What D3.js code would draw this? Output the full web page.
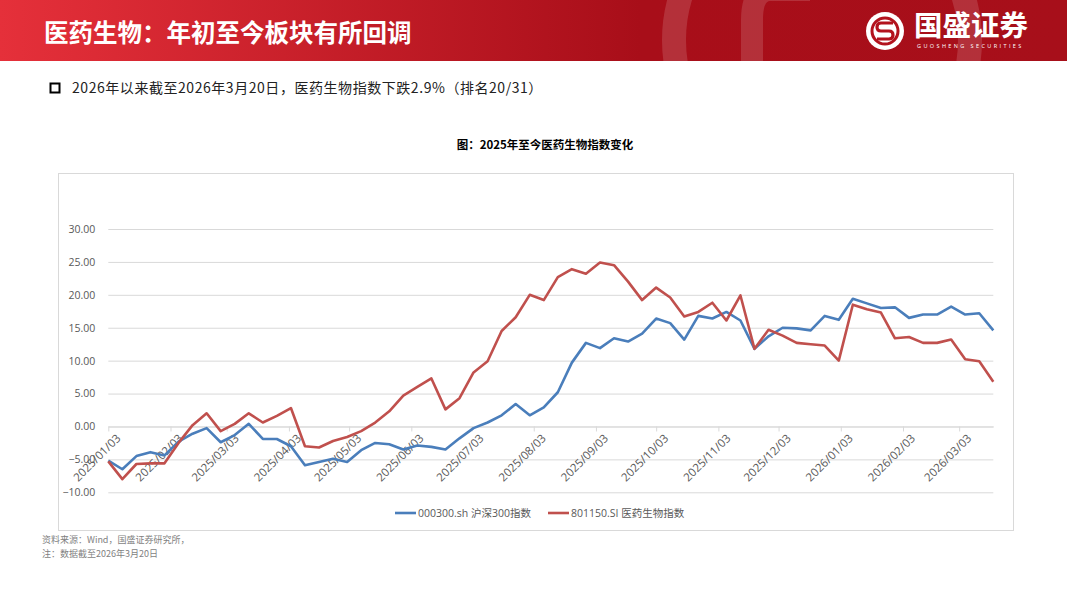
<!DOCTYPE html>
<html>
<head>
<meta charset="utf-8">
<title>医药生物：年初至今板块有所回调</title>
<script src="https://cdnjs.cloudflare.com/ajax/libs/d3/7.8.5/d3.min.js"></script>
<style>
  body { margin: 0; background: #fff; }
  svg { display: block; }
  text { font-family: "Open Sans", "Noto Sans CJK SC", sans-serif; }
  .cjk { font-family: "Noto Sans CJK SC", sans-serif; }
</style>
</head>
<body>
<svg id="page" width="1067" height="600"></svg>
<script>
// weekly dates (Fridays)
var dates = [
  "2025/01/03","2025/01/10","2025/01/17","2025/01/24","2025/01/31",
  "2025/02/07","2025/02/14","2025/02/21","2025/02/28",
  "2025/03/07","2025/03/14","2025/03/21","2025/03/28",
  "2025/04/04","2025/04/11","2025/04/18","2025/04/25",
  "2025/05/02","2025/05/09","2025/05/16","2025/05/23","2025/05/30",
  "2025/06/06","2025/06/13","2025/06/20","2025/06/27",
  "2025/07/04","2025/07/11","2025/07/18","2025/07/25",
  "2025/08/01","2025/08/08","2025/08/15","2025/08/22","2025/08/29",
  "2025/09/05","2025/09/12","2025/09/19","2025/09/26",
  "2025/10/03","2025/10/10","2025/10/17","2025/10/24","2025/10/31",
  "2025/11/07","2025/11/14","2025/11/21","2025/11/28",
  "2025/12/05","2025/12/12","2025/12/19","2025/12/26",
  "2026/01/02","2026/01/09","2026/01/16","2026/01/23","2026/01/30",
  "2026/02/06","2026/02/13","2026/02/20","2026/02/27",
  "2026/03/06","2026/03/13","2026/03/20"
];

// 000300.sh 沪深300指数 (%)
var hs300 = [
  -5.2, -6.5, -4.5, -3.9, -4.4, -2.3, -1.1, -0.25, -2.4, -1.3,
  0.4, -1.9, -1.9, -3.0, -5.9, -5.4, -4.9, -5.4, -3.6, -2.5,
  -2.7, -3.5, -2.9, -3.1, -3.5, -1.8, -0.25, 0.6, 1.7, 3.4,
  1.7, 2.9, 5.2, 9.7, 12.7, 11.9, 13.4, 12.9, 14.1, 16.4,
  15.7, 13.2, 16.8, 16.4, 17.4, 16.1, 11.8, 13.7, 15.0, 14.9,
  14.6, 16.8, 16.2, 19.4, 18.7, 18.0, 18.1, 16.5, 17.0, 17.0,
  18.2, 17.0, 17.2, 14.6
];

// 801150.SI 医药生物指数 (%)
var yiyao = [
  -5.3, -8.0, -5.7, -5.6, -5.6, -2.5, 0.2, 2.0, -0.7, 0.4,
  2.0, 0.6, 1.6, 2.8, -3.0, -3.2, -2.2, -1.6, -0.7, 0.6,
  2.3, 4.7, 6.0, 7.3, 2.6, 4.3, 8.2, 9.9, 14.5, 16.6,
  20.0, 19.2, 22.7, 23.9, 23.2, 24.9, 24.5, 22.0, 19.2, 21.1,
  19.6, 16.7, 17.4, 18.8, 16.1, 19.9, 11.8, 14.7, 13.8, 12.7,
  12.5, 12.3, 10.0, 18.5, 17.8, 17.3, 13.4, 13.6, 12.7, 12.7,
  13.2, 10.2, 9.9, 6.8
];

var seriesNames = ["000300.sh 沪深300指数", "801150.SI 医药生物指数"];
var seriesColors = ["#4a7ebb", "#c0504d"];

var yTicks = [-10, -5, 0, 5, 10, 15, 20, 25, 30];
var xTickLabels = [
  "2025/01/03","2025/02/03","2025/03/03","2025/04/03","2025/05/03",
  "2025/06/03","2025/07/03","2025/08/03","2025/09/03","2025/10/03",
  "2025/11/03","2025/12/03","2026/01/03","2026/02/03","2026/03/03"
];

var parse = d3.timeParse("%Y/%m/%d");
var svg = d3.select("#page");

// ---- header band ----
var defs = svg.append("defs");
var grad = defs.append("linearGradient").attr("id", "hdr").attr("x1", "0").attr("x2", "1");
grad.append("stop").attr("offset", "0").attr("stop-color", "#e5303a");
grad.append("stop").attr("offset", "0.6").attr("stop-color", "#a80e19");
grad.append("stop").attr("offset", "1").attr("stop-color", "#a70f1a");

svg.append("rect").attr("width", 1067).attr("height", 61).attr("fill", "url(#hdr)");

var deco = svg.append("g").attr("clip-path", "url(#hdrClip)");
defs.append("clipPath").attr("id", "hdrClip").append("rect").attr("width", 1067).attr("height", 61);
deco.append("circle").attr("cx", 822).attr("cy", 40).attr("r", 148)
  .attr("fill", "none").attr("stroke", "rgba(255,255,255,0.14)").attr("stroke-width", 24);
deco.append("path").attr("d", "M810,-10 L770,-10 Q752,-10 752,20 L752,80")
  .attr("fill", "none").attr("stroke", "rgba(255,255,255,0.14)").attr("stroke-width", 22);

svg.append("text").attr("class", "cjk")
  .attr("x", 44).attr("y", 42)
  .attr("font-size", 24.5).attr("font-weight", 700).attr("fill", "#fff")
  .text("医药生物：年初至今板块有所回调");

// logo
var logo = svg.append("g").attr("transform", "translate(885,31)");
logo.append("circle").attr("r", 19).attr("fill", "#fff");
logo.append("circle").attr("r", 13).attr("fill", "none").attr("stroke", "#b3121d").attr("stroke-width", 3);
logo.append("path").attr("d", "M8,-6 L-4,-6 Q-8,-6 -8,-2 Q-8,2 -4,2 L4,2 Q8,2 8,6 Q8,10 4,10 L-8,10")
  .attr("fill", "none").attr("stroke", "#b3121d").attr("stroke-width", 3.2)
  .attr("transform", "translate(0,-2)");
svg.append("text").attr("class", "cjk")
  .attr("x", 914).attr("y", 36)
  .attr("font-size", 28.5).attr("font-weight", 700).attr("fill", "#fff")
  .text("国盛证券");
svg.append("text")
  .attr("x", 917).attr("y", 48)
  .attr("font-size", 5.5).attr("fill", "#fff").attr("letter-spacing", 2.4)
  .text("GUOSHENG SECURITIES");

// ---- bullet line ----
svg.append("rect").attr("x", 50.5).attr("y", 83.5).attr("width", 9).attr("height", 9)
  .attr("fill", "none").attr("stroke", "#000").attr("stroke-width", 2);
svg.append("text").attr("class", "cjk")
  .attr("x", 72).attr("y", 93)
  .attr("font-size", 14).attr("letter-spacing", 0.55).attr("fill", "#222")
  .text("2026年以来截至2026年3月20日，医药生物指数下跌2.9%（排名20/31）");

// ---- chart frame & title ----
svg.append("rect").attr("x", 58.5).attr("y", 173.5).attr("width", 955).attr("height", 357)
  .attr("fill", "#fff").attr("stroke", "#d9d9d9").attr("stroke-width", 1);

svg.append("text").attr("class", "cjk")
  .attr("x", 545).attr("y", 149).attr("text-anchor", "middle")
  .attr("font-size", 11.5).attr("font-weight", 700).attr("fill", "#000")
  .text("图：2025年至今医药生物指数变化");

// ---- scales ----
var x = d3.scaleTime()
  .domain([parse(dates[0]), parse(dates[dates.length - 1])])
  .range([108.3, 993.3]);
var y = d3.scaleLinear().domain([-10, 30]).range([492.3, 229]);

// y grid + labels
var yAxis = d3.axisLeft(y)
  .tickValues(yTicks)
  .tickFormat(d3.format(".2f"))
  .tickSize(-(993.3 - 108.3))
  .tickPadding(13);
var gy = svg.append("g").attr("transform", "translate(108.3,0)").call(yAxis);
gy.select(".domain").remove();
gy.selectAll(".tick line").attr("stroke", "#d9d9d9");
gy.selectAll(".tick text").attr("fill", "#595959").attr("font-size", 10.5);

// x axis on zero line
var xAxis = d3.axisBottom(x)
  .tickValues(xTickLabels.map(parse))
  .tickFormat(d3.timeFormat("%Y/%m/%d"))
  .tickSizeInner(5).tickSizeOuter(0);
var gx = svg.append("g").attr("transform", "translate(0," + y(0) + ")").call(xAxis);
gx.select(".domain").attr("stroke", "#d9d9d9");
gx.selectAll(".tick line").attr("stroke", "#d9d9d9");
gx.selectAll(".tick text")
  .attr("fill", "#595959").attr("font-size", 11.5)
  .attr("text-anchor", "end")
  .attr("dy", "0.35em")
  .attr("transform", "translate(4,4) rotate(-45)");

// ---- lines ----
var line = d3.line()
  .x(function(d, i) { return x(parse(dates[i])); })
  .y(function(d) { return y(d); });

[hs300, yiyao].forEach(function(s, k) {
  svg.append("path").datum(s)
    .attr("d", line)
    .attr("fill", "none")
    .attr("stroke", seriesColors[k])
    .attr("stroke-width", 2.6)
    .attr("stroke-linejoin", "round");
});

// ---- legend ----
var legendX = [395, 548];
seriesNames.forEach(function(name, k) {
  var g = svg.append("g").attr("transform", "translate(" + legendX[k] + ",513)");
  g.append("line").attr("x1", 0).attr("x2", 21).attr("y1", 0).attr("y2", 0)
    .attr("stroke", seriesColors[k]).attr("stroke-width", 2.6);
  g.append("text").attr("x", 23).attr("y", 0).attr("dy", "0.35em")
    .attr("font-size", 10.5).attr("fill", "#595959").text(name);
});

// ---- notes ----
svg.append("text").attr("class", "cjk")
  .attr("x", 42).attr("y", 543).attr("font-size", 9).attr("fill", "#7f7f7f")
  .text("资料来源：Wind，国盛证券研究所，");
svg.append("text").attr("class", "cjk")
  .attr("x", 42).attr("y", 557).attr("font-size", 9).attr("fill", "#7f7f7f")
  .text("注：数据截至2026年3月20日");
</script>
</body>
</html>
